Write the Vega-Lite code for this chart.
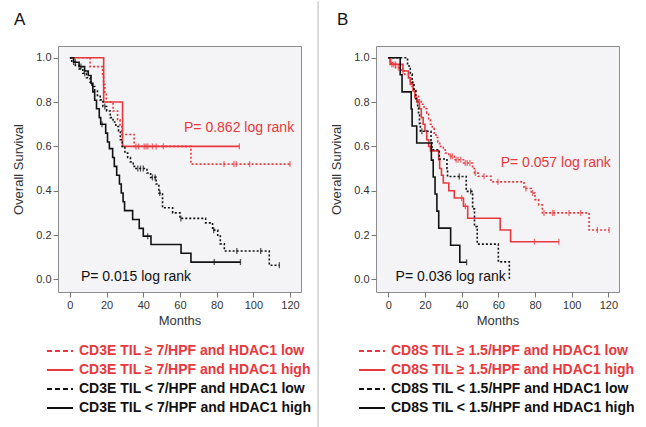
{
  "$schema": "https://vega.github.io/schema/vega-lite/v6.json",
  "background": "white",
  "autosize": {"type": "pad"},
  "padding": {"left": 12, "top": 0, "right": 4, "bottom": 0},
  "bounds": "flush",
  "columns": 2,
  "spacing": {"row": 49.5, "column": 75},
  "config": {
    "font": "Liberation Sans",
    "axis": {"domain": false, "grid": false, "tickColor": "#777777", "tickSize": 5, "labelPadding": 2,
      "labelFont": "Liberation Sans", "labelFontSize": 11, "labelColor": "#333333",
      "titleFont": "Liberation Sans", "titleFontSize": 13, "titleFontWeight": "normal", "titleColor": "#333333"}
  },
  "resolve": {"scale": {"color": "independent", "strokeDash": "independent", "x": "independent", "y": "independent"}},
  "datasets": {
    "curves": [
      {"p":"A","g":"hl","t":0,"s":1},{"p":"A","g":"hl","t":11,"s":0.96},{"p":"A","g":"hl","t":17.8,"s":0.92},{"p":"A","g":"hl","t":18.3,"s":0.88},{"p":"A","g":"hl","t":19,"s":0.84},{"p":"A","g":"hl","t":19.8,"s":0.8},{"p":"A","g":"hl","t":23.5,"s":0.76},{"p":"A","g":"hl","t":26,"s":0.72},{"p":"A","g":"hl","t":27.3,"s":0.69},{"p":"A","g":"hl","t":28.3,"s":0.654},{"p":"A","g":"hl","t":35,"s":0.6},{"p":"A","g":"hl","t":66,"s":0.52},{"p":"A","g":"hl","t":120,"s":0.52},
      {"p":"A","g":"hh","t":0,"s":1},{"p":"A","g":"hh","t":18.4,"s":0.8},{"p":"A","g":"hh","t":28.7,"s":0.6},{"p":"A","g":"hh","t":92.4,"s":0.6},
      {"p":"A","g":"ll","t":0,"s":1},{"p":"A","g":"ll","t":1,"s":0.98},{"p":"A","g":"ll","t":3,"s":0.965},{"p":"A","g":"ll","t":5,"s":0.95},{"p":"A","g":"ll","t":7,"s":0.93},{"p":"A","g":"ll","t":9,"s":0.91},{"p":"A","g":"ll","t":11,"s":0.89},{"p":"A","g":"ll","t":12,"s":0.87},{"p":"A","g":"ll","t":13.5,"s":0.85},{"p":"A","g":"ll","t":15,"s":0.83},{"p":"A","g":"ll","t":16.5,"s":0.81},{"p":"A","g":"ll","t":18,"s":0.78},{"p":"A","g":"ll","t":20,"s":0.76},{"p":"A","g":"ll","t":22,"s":0.73},{"p":"A","g":"ll","t":23.5,"s":0.71},{"p":"A","g":"ll","t":25,"s":0.69},{"p":"A","g":"ll","t":26.5,"s":0.67},{"p":"A","g":"ll","t":27.5,"s":0.63},{"p":"A","g":"ll","t":28.5,"s":0.6},{"p":"A","g":"ll","t":30,"s":0.57},{"p":"A","g":"ll","t":31.5,"s":0.55},{"p":"A","g":"ll","t":33,"s":0.53},{"p":"A","g":"ll","t":34.5,"s":0.51},{"p":"A","g":"ll","t":36,"s":0.5},{"p":"A","g":"ll","t":42,"s":0.48},{"p":"A","g":"ll","t":44,"s":0.46},{"p":"A","g":"ll","t":47,"s":0.43},{"p":"A","g":"ll","t":48.5,"s":0.39},{"p":"A","g":"ll","t":50.5,"s":0.323},{"p":"A","g":"ll","t":56,"s":0.3},{"p":"A","g":"ll","t":60,"s":0.275},{"p":"A","g":"ll","t":74,"s":0.255},{"p":"A","g":"ll","t":77.8,"s":0.222},{"p":"A","g":"ll","t":80.6,"s":0.195},{"p":"A","g":"ll","t":82,"s":0.16},{"p":"A","g":"ll","t":84.2,"s":0.128},{"p":"A","g":"ll","t":108.7,"s":0.064},{"p":"A","g":"ll","t":114.2,"s":0.064},
      {"p":"A","g":"lh","t":0,"s":1},{"p":"A","g":"lh","t":2,"s":0.98},{"p":"A","g":"lh","t":5,"s":0.96},{"p":"A","g":"lh","t":8,"s":0.94},{"p":"A","g":"lh","t":10,"s":0.92},{"p":"A","g":"lh","t":11.5,"s":0.885},{"p":"A","g":"lh","t":12.5,"s":0.846},{"p":"A","g":"lh","t":13.5,"s":0.808},{"p":"A","g":"lh","t":14.5,"s":0.77},{"p":"A","g":"lh","t":16,"s":0.73},{"p":"A","g":"lh","t":16.8,"s":0.7},{"p":"A","g":"lh","t":19.5,"s":0.66},{"p":"A","g":"lh","t":20.5,"s":0.62},{"p":"A","g":"lh","t":21.5,"s":0.59},{"p":"A","g":"lh","t":23.3,"s":0.55},{"p":"A","g":"lh","t":24.2,"s":0.51},{"p":"A","g":"lh","t":25.5,"s":0.47},{"p":"A","g":"lh","t":27,"s":0.43},{"p":"A","g":"lh","t":28,"s":0.39},{"p":"A","g":"lh","t":29,"s":0.35},{"p":"A","g":"lh","t":29.8,"s":0.31},{"p":"A","g":"lh","t":34.2,"s":0.27},{"p":"A","g":"lh","t":37.8,"s":0.23},{"p":"A","g":"lh","t":40,"s":0.195},{"p":"A","g":"lh","t":44.2,"s":0.157},{"p":"A","g":"lh","t":60.6,"s":0.118},{"p":"A","g":"lh","t":66,"s":0.078},{"p":"A","g":"lh","t":93,"s":0.078},
      {"p":"B","g":"hl","t":0,"s":1},{"p":"B","g":"hl","t":1,"s":0.985},{"p":"B","g":"hl","t":2,"s":0.97},{"p":"B","g":"hl","t":4,"s":0.955},{"p":"B","g":"hl","t":7,"s":0.94},{"p":"B","g":"hl","t":9,"s":0.925},{"p":"B","g":"hl","t":11,"s":0.91},{"p":"B","g":"hl","t":12,"s":0.89},{"p":"B","g":"hl","t":13,"s":0.87},{"p":"B","g":"hl","t":14,"s":0.85},{"p":"B","g":"hl","t":15,"s":0.83},{"p":"B","g":"hl","t":16.5,"s":0.81},{"p":"B","g":"hl","t":18,"s":0.79},{"p":"B","g":"hl","t":19.5,"s":0.77},{"p":"B","g":"hl","t":21,"s":0.75},{"p":"B","g":"hl","t":22,"s":0.72},{"p":"B","g":"hl","t":23,"s":0.7},{"p":"B","g":"hl","t":24,"s":0.68},{"p":"B","g":"hl","t":25,"s":0.66},{"p":"B","g":"hl","t":26,"s":0.64},{"p":"B","g":"hl","t":27,"s":0.62},{"p":"B","g":"hl","t":28,"s":0.6},{"p":"B","g":"hl","t":30,"s":0.585},{"p":"B","g":"hl","t":31,"s":0.57},{"p":"B","g":"hl","t":33,"s":0.555},{"p":"B","g":"hl","t":36,"s":0.54},{"p":"B","g":"hl","t":41,"s":0.525},{"p":"B","g":"hl","t":46,"s":0.5},{"p":"B","g":"hl","t":47,"s":0.48},{"p":"B","g":"hl","t":49,"s":0.465},{"p":"B","g":"hl","t":56,"s":0.44},{"p":"B","g":"hl","t":74,"s":0.41},{"p":"B","g":"hl","t":78,"s":0.39},{"p":"B","g":"hl","t":80,"s":0.36},{"p":"B","g":"hl","t":82,"s":0.336},{"p":"B","g":"hl","t":84,"s":0.3},{"p":"B","g":"hl","t":109.5,"s":0.223},{"p":"B","g":"hl","t":120.4,"s":0.223},
      {"p":"B","g":"hh","t":0,"s":1},{"p":"B","g":"hh","t":1,"s":0.97},{"p":"B","g":"hh","t":8,"s":0.94},{"p":"B","g":"hh","t":11,"s":0.91},{"p":"B","g":"hh","t":12,"s":0.88},{"p":"B","g":"hh","t":13.5,"s":0.85},{"p":"B","g":"hh","t":14.5,"s":0.82},{"p":"B","g":"hh","t":15.5,"s":0.8},{"p":"B","g":"hh","t":17,"s":0.77},{"p":"B","g":"hh","t":18,"s":0.73},{"p":"B","g":"hh","t":19,"s":0.7},{"p":"B","g":"hh","t":20,"s":0.67},{"p":"B","g":"hh","t":21,"s":0.63},{"p":"B","g":"hh","t":22,"s":0.6},{"p":"B","g":"hh","t":23,"s":0.58},{"p":"B","g":"hh","t":27.5,"s":0.54},{"p":"B","g":"hh","t":28,"s":0.5},{"p":"B","g":"hh","t":29,"s":0.47},{"p":"B","g":"hh","t":30,"s":0.435},{"p":"B","g":"hh","t":33,"s":0.4},{"p":"B","g":"hh","t":36,"s":0.367},{"p":"B","g":"hh","t":41,"s":0.33},{"p":"B","g":"hh","t":43.3,"s":0.276},{"p":"B","g":"hh","t":61,"s":0.223},{"p":"B","g":"hh","t":66.7,"s":0.17},{"p":"B","g":"hh","t":93,"s":0.17},
      {"p":"B","g":"ll","t":0,"s":1},{"p":"B","g":"ll","t":10.5,"s":0.963},{"p":"B","g":"ll","t":12,"s":0.926},{"p":"B","g":"ll","t":13,"s":0.889},{"p":"B","g":"ll","t":14,"s":0.852},{"p":"B","g":"ll","t":15,"s":0.815},{"p":"B","g":"ll","t":16,"s":0.778},{"p":"B","g":"ll","t":16.5,"s":0.741},{"p":"B","g":"ll","t":17,"s":0.704},{"p":"B","g":"ll","t":17.5,"s":0.668},{"p":"B","g":"ll","t":23.3,"s":0.626},{"p":"B","g":"ll","t":23.8,"s":0.585},{"p":"B","g":"ll","t":27.8,"s":0.543},{"p":"B","g":"ll","t":32,"s":0.5},{"p":"B","g":"ll","t":32.3,"s":0.464},{"p":"B","g":"ll","t":42.5,"s":0.397},{"p":"B","g":"ll","t":46,"s":0.318},{"p":"B","g":"ll","t":47,"s":0.238},{"p":"B","g":"ll","t":48.5,"s":0.159},{"p":"B","g":"ll","t":60,"s":0.079},{"p":"B","g":"ll","t":66,"s":0},
      {"p":"B","g":"lh","t":0,"s":1},{"p":"B","g":"lh","t":6.5,"s":0.923},{"p":"B","g":"lh","t":7.5,"s":0.846},{"p":"B","g":"lh","t":12.5,"s":0.769},{"p":"B","g":"lh","t":13,"s":0.692},{"p":"B","g":"lh","t":15.5,"s":0.615},{"p":"B","g":"lh","t":23.5,"s":0.538},{"p":"B","g":"lh","t":24.5,"s":0.462},{"p":"B","g":"lh","t":25.5,"s":0.385},{"p":"B","g":"lh","t":26.5,"s":0.308},{"p":"B","g":"lh","t":27.5,"s":0.231},{"p":"B","g":"lh","t":34,"s":0.154},{"p":"B","g":"lh","t":39,"s":0.077},{"p":"B","g":"lh","t":42.7,"s":0.077}
    ],
    "censors": [
      {"p":"A","g":"hl","t":36,"s":0.6},{"p":"A","g":"hl","t":37.5,"s":0.6},{"p":"A","g":"hl","t":40.5,"s":0.6},{"p":"A","g":"hl","t":41.5,"s":0.6},{"p":"A","g":"hl","t":42.5,"s":0.6},{"p":"A","g":"hl","t":45,"s":0.6},{"p":"A","g":"hl","t":47,"s":0.6},{"p":"A","g":"hl","t":51,"s":0.6},{"p":"A","g":"hl","t":84,"s":0.52},{"p":"A","g":"hl","t":89.5,"s":0.52},{"p":"A","g":"hl","t":90.7,"s":0.52},{"p":"A","g":"hl","t":98,"s":0.52},{"p":"A","g":"hl","t":120,"s":0.52},
      {"p":"A","g":"hh","t":92.4,"s":0.6},
      {"p":"A","g":"ll","t":2,"s":0.98},{"p":"A","g":"ll","t":8,"s":0.93},{"p":"A","g":"ll","t":19,"s":0.78},{"p":"A","g":"ll","t":37,"s":0.5},{"p":"A","g":"ll","t":38.5,"s":0.5},{"p":"A","g":"ll","t":40,"s":0.5},{"p":"A","g":"ll","t":45,"s":0.46},{"p":"A","g":"ll","t":46.5,"s":0.46},{"p":"A","g":"ll","t":49,"s":0.39},{"p":"A","g":"ll","t":60.5,"s":0.275},{"p":"A","g":"ll","t":78.4,"s":0.222},{"p":"A","g":"ll","t":91,"s":0.128},{"p":"A","g":"ll","t":104,"s":0.128},{"p":"A","g":"ll","t":114.2,"s":0.064},
      {"p":"A","g":"lh","t":3,"s":0.98},{"p":"A","g":"lh","t":6,"s":0.96},{"p":"A","g":"lh","t":17.5,"s":0.7},{"p":"A","g":"lh","t":42.4,"s":0.195},{"p":"A","g":"lh","t":78.7,"s":0.078},{"p":"A","g":"lh","t":93,"s":0.078},
      {"p":"B","g":"hl","t":1.5,"s":0.985},{"p":"B","g":"hl","t":3,"s":0.97},{"p":"B","g":"hl","t":5.5,"s":0.955},{"p":"B","g":"hl","t":8,"s":0.94},{"p":"B","g":"hl","t":34,"s":0.555},{"p":"B","g":"hl","t":35,"s":0.555},{"p":"B","g":"hl","t":37,"s":0.54},{"p":"B","g":"hl","t":38,"s":0.54},{"p":"B","g":"hl","t":39.5,"s":0.54},{"p":"B","g":"hl","t":42,"s":0.525},{"p":"B","g":"hl","t":43,"s":0.525},{"p":"B","g":"hl","t":44.5,"s":0.525},{"p":"B","g":"hl","t":47.5,"s":0.48},{"p":"B","g":"hl","t":52.2,"s":0.465},{"p":"B","g":"hl","t":59.8,"s":0.44},{"p":"B","g":"hl","t":75,"s":0.41},{"p":"B","g":"hl","t":78.7,"s":0.39},{"p":"B","g":"hl","t":84.9,"s":0.3},{"p":"B","g":"hl","t":89.5,"s":0.3},{"p":"B","g":"hl","t":90.4,"s":0.3},{"p":"B","g":"hl","t":98.5,"s":0.3},{"p":"B","g":"hl","t":104.9,"s":0.3},{"p":"B","g":"hl","t":114,"s":0.223},{"p":"B","g":"hl","t":120.4,"s":0.223},
      {"p":"B","g":"hh","t":2,"s":0.97},{"p":"B","g":"hh","t":4,"s":0.97},{"p":"B","g":"hh","t":16,"s":0.8},{"p":"B","g":"hh","t":40,"s":0.367},{"p":"B","g":"hh","t":42,"s":0.33},{"p":"B","g":"hh","t":79.7,"s":0.17},{"p":"B","g":"hh","t":93,"s":0.17},
      {"p":"B","g":"ll","t":18.3,"s":0.668},{"p":"B","g":"ll","t":38.7,"s":0.464},{"p":"B","g":"ll","t":44.9,"s":0.397},
      {"p":"B","g":"lh","t":42.7,"s":0.077}
    ],
    "pvals": [
      {"p":"A","g":"hh","t":62.2,"s":0.684,"label":"P= 0.862 log rank"},
      {"p":"A","g":"lh","t":6,"s":0.01,"label":"P= 0.015 log rank"},
      {"p":"B","g":"hh","t":61.3,"s":0.525,"label":"P= 0.057 log rank"},
      {"p":"B","g":"lh","t":4,"s":0.012,"label":"P= 0.036 log rank"}
    ],
    "legend": [
      {"p":"A","o":1,"g":"hl","label":"CD3E TIL ≥ 7/HPF and HDAC1 low"},
      {"p":"A","o":2,"g":"hh","label":"CD3E TIL ≥ 7/HPF and HDAC1 high"},
      {"p":"A","o":3,"g":"ll","label":"CD3E TIL < 7/HPF and HDAC1 low"},
      {"p":"A","o":4,"g":"lh","label":"CD3E TIL < 7/HPF and HDAC1 high"},
      {"p":"B","o":1,"g":"hl","label":"CD8S TIL ≥ 1.5/HPF and HDAC1 low"},
      {"p":"B","o":2,"g":"hh","label":"CD8S TIL ≥ 1.5/HPF and HDAC1 high"},
      {"p":"B","o":3,"g":"ll","label":"CD8S TIL < 1.5/HPF and HDAC1 low"},
      {"p":"B","o":4,"g":"lh","label":"CD8S TIL < 1.5/HPF and HDAC1 high"}
    ]
  },
  "concat": [
    {
      "width": 243, "height": 246,
      "view": {"fill": "#f4f4f6", "stroke": "#8c8c8c"},
      "layer": [
        {
          "data": {"name": "curves"}, "transform": [{"filter": "datum.p === 'A'"}],
          "mark": {"type": "line", "interpolate": "step-after", "strokeWidth": 1.6},
          "encoding": {
            "x": {"field": "t", "type": "quantitative", "scale": {"domain": [-6.5, 126], "nice": false, "zero": false}, "axis": {"values": [0,20,40,60,80,100,120], "title": "Months", "titlePadding": 4}},
            "y": {"field": "s", "type": "quantitative", "scale": {"domain": [-0.057, 1.053], "nice": false, "zero": false}, "axis": {"values": [0,0.2,0.4,0.6,0.8,1], "format": ".1f", "title": "Overall Survival", "titlePadding": 10}},
            "color": {"field": "g", "type": "nominal", "scale": {"domain": ["hl","hh","ll","lh"], "range": ["#e8383d","#e8383d","#111111","#111111"]}, "legend": null},
            "strokeDash": {"field": "g", "type": "nominal", "scale": {"domain": ["hl","hh","ll","lh"], "range": [[2,2],[1,0],[2,2],[1,0]]}, "legend": null}
          }
        },
        {
          "data": {"name": "censors"}, "transform": [{"filter": "datum.p === 'A'"}],
          "mark": {"type": "tick", "orient": "vertical", "size": 6, "thickness": 1.3},
          "encoding": {
            "x": {"field": "t", "type": "quantitative"},
            "y": {"field": "s", "type": "quantitative"},
            "color": {"field": "g", "type": "nominal", "scale": {"domain": ["hl","hh","ll","lh"], "range": ["#e8383d","#e8383d","#111111","#111111"]}, "legend": null}
          }
        },
        {
          "data": {"name": "pvals"}, "transform": [{"filter": "datum.p === 'A'"}],
          "mark": {"type": "text", "align": "left", "baseline": "middle", "fontSize": 14, "font": "Liberation Sans"},
          "encoding": {
            "x": {"field": "t", "type": "quantitative"},
            "y": {"field": "s", "type": "quantitative"},
            "text": {"field": "label"},
            "color": {"field": "g", "type": "nominal", "scale": {"domain": ["hl","hh","ll","lh"], "range": ["#e8383d","#e8383d","#111111","#111111"]}, "legend": null}
          }
        },
        {
          "data": {"values": [{"lab": "A"}]},
          "mark": {"type": "text", "align": "left", "baseline": "alphabetic", "fontSize": 17, "color": "#111111", "clip": false},
          "encoding": {
            "x": {"datum": -30.5, "type": "quantitative"},
            "y": {"datum": 1.147, "type": "quantitative"},
            "text": {"field": "lab"}
          }
        },
        {
          "data": {"values": [{}]},
          "mark": {"type": "rule", "color": "#b8b8b8", "strokeWidth": 1, "clip": false},
          "encoding": {
            "x": {"datum": 135.3, "type": "quantitative"},
            "y": {"datum": 1.255, "type": "quantitative"},
            "y2": {"datum": -0.671}
          }
        }
      ]
    },
    {
      "width": 243, "height": 246,
      "view": {"fill": "#f4f4f6", "stroke": "#8c8c8c"},
      "layer": [
        {
          "data": {"name": "curves"}, "transform": [{"filter": "datum.p === 'B'"}],
          "mark": {"type": "line", "interpolate": "step-after", "strokeWidth": 1.6},
          "encoding": {
            "x": {"field": "t", "type": "quantitative", "scale": {"domain": [-6.7, 125.8], "nice": false, "zero": false}, "axis": {"values": [0,20,40,60,80,100,120], "title": "Months", "titlePadding": 4}},
            "y": {"field": "s", "type": "quantitative", "scale": {"domain": [-0.057, 1.053], "nice": false, "zero": false}, "axis": {"values": [0,0.2,0.4,0.6,0.8,1], "format": ".1f", "title": "Overall Survival", "titlePadding": 10}},
            "color": {"field": "g", "type": "nominal", "scale": {"domain": ["hl","hh","ll","lh"], "range": ["#e8383d","#e8383d","#111111","#111111"]}, "legend": null},
            "strokeDash": {"field": "g", "type": "nominal", "scale": {"domain": ["hl","hh","ll","lh"], "range": [[2,2],[1,0],[2,2],[1,0]]}, "legend": null}
          }
        },
        {
          "data": {"name": "censors"}, "transform": [{"filter": "datum.p === 'B'"}],
          "mark": {"type": "tick", "orient": "vertical", "size": 6, "thickness": 1.3},
          "encoding": {
            "x": {"field": "t", "type": "quantitative"},
            "y": {"field": "s", "type": "quantitative"},
            "color": {"field": "g", "type": "nominal", "scale": {"domain": ["hl","hh","ll","lh"], "range": ["#e8383d","#e8383d","#111111","#111111"]}, "legend": null}
          }
        },
        {
          "data": {"name": "pvals"}, "transform": [{"filter": "datum.p === 'B'"}],
          "mark": {"type": "text", "align": "left", "baseline": "middle", "fontSize": 14, "font": "Liberation Sans"},
          "encoding": {
            "x": {"field": "t", "type": "quantitative"},
            "y": {"field": "s", "type": "quantitative"},
            "text": {"field": "label"},
            "color": {"field": "g", "type": "nominal", "scale": {"domain": ["hl","hh","ll","lh"], "range": ["#e8383d","#e8383d","#111111","#111111"]}, "legend": null}
          }
        },
        {
          "data": {"values": [{"lab": "B"}]},
          "mark": {"type": "text", "align": "left", "baseline": "alphabetic", "fontSize": 17, "color": "#111111", "clip": false},
          "encoding": {
            "x": {"datum": -28, "type": "quantitative"},
            "y": {"datum": 1.147, "type": "quantitative"},
            "text": {"field": "lab"}
          }
        }
      ]
    },
    {
      "width": 243, "height": 76,
      "view": {"stroke": null, "fill": null},
      "data": {"name": "legend"}, "transform": [{"filter": "datum.p === 'A'"}],
      "encoding": {"y": {"field": "o", "type": "ordinal", "axis": null, "scale": {"paddingInner": 0, "paddingOuter": 0}}},
      "layer": [
        {
          "mark": {"type": "rule", "strokeWidth": 2},
          "encoding": {
            "x": {"datum": -11, "type": "quantitative", "scale": {"domain": [0, 243], "nice": false, "zero": false}, "axis": null},
            "x2": {"datum": 15},
            "color": {"field": "g", "type": "nominal", "scale": {"domain": ["hl","hh","ll","lh"], "range": ["#e8383d","#e8383d","#111111","#111111"]}, "legend": null},
            "strokeDash": {"field": "g", "type": "nominal", "scale": {"domain": ["hl","hh","ll","lh"], "range": [[5,3],[1,0],[5,3],[1,0]]}, "legend": null}
          }
        },
        {
          "mark": {"type": "text", "align": "left", "baseline": "middle", "fontSize": 14, "fontWeight": "bold", "font": "Liberation Sans"},
          "encoding": {
            "x": {"datum": 21, "type": "quantitative"},
            "text": {"field": "label"},
            "color": {"field": "g", "type": "nominal", "scale": {"domain": ["hl","hh","ll","lh"], "range": ["#e8383d","#e8383d","#111111","#111111"]}, "legend": null}
          }
        }
      ]
    },
    {
      "width": 243, "height": 76,
      "view": {"stroke": null, "fill": null},
      "data": {"name": "legend"}, "transform": [{"filter": "datum.p === 'B'"}],
      "encoding": {"y": {"field": "o", "type": "ordinal", "axis": null, "scale": {"paddingInner": 0, "paddingOuter": 0}}},
      "layer": [
        {
          "mark": {"type": "rule", "strokeWidth": 2},
          "encoding": {
            "x": {"datum": -17, "type": "quantitative", "scale": {"domain": [0, 243], "nice": false, "zero": false}, "axis": null},
            "x2": {"datum": 9},
            "color": {"field": "g", "type": "nominal", "scale": {"domain": ["hl","hh","ll","lh"], "range": ["#e8383d","#e8383d","#111111","#111111"]}, "legend": null},
            "strokeDash": {"field": "g", "type": "nominal", "scale": {"domain": ["hl","hh","ll","lh"], "range": [[5,3],[1,0],[5,3],[1,0]]}, "legend": null}
          }
        },
        {
          "mark": {"type": "text", "align": "left", "baseline": "middle", "fontSize": 14, "fontWeight": "bold", "font": "Liberation Sans"},
          "encoding": {
            "x": {"datum": 15, "type": "quantitative"},
            "text": {"field": "label"},
            "color": {"field": "g", "type": "nominal", "scale": {"domain": ["hl","hh","ll","lh"], "range": ["#e8383d","#e8383d","#111111","#111111"]}, "legend": null}
          }
        }
      ]
    }
  ]
}
